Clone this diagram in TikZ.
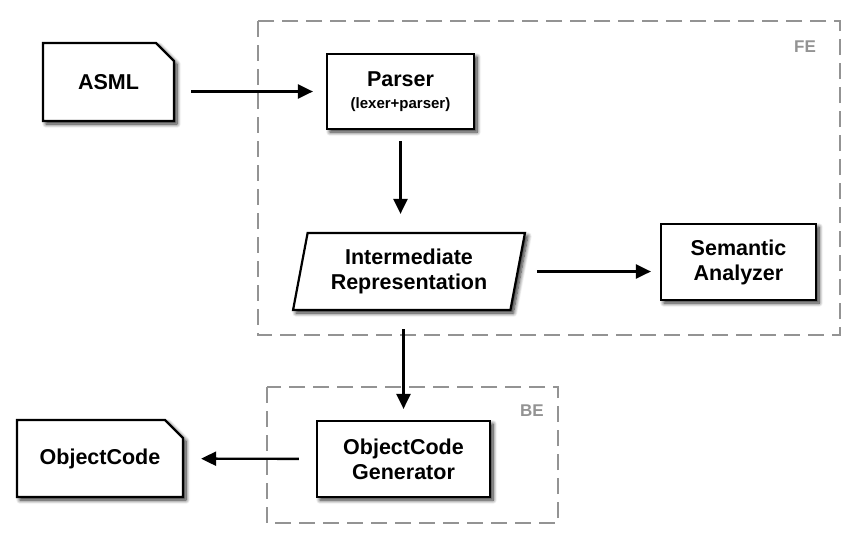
\documentclass[tikz,border=0pt]{standalone}
\usepackage{fontspec}
\setmainfont{Liberation Sans}
\usetikzlibrary{shapes.misc,shapes.geometric,shadows.blur,arrows.meta}

\begin{document}
\begin{tikzpicture}[x=1pt,y=-1pt,
    font=\bfseries\fontsize{21.5}{25}\selectfont,
    block/.style={draw, line width=2.2pt, fill=white, align=center, inner sep=0pt,
        blur shadow={shadow xshift=3pt, shadow yshift=-3pt, shadow blur radius=4pt, shadow blur steps=8, shadow opacity=85}},
    doc/.style={block, chamfered rectangle, chamfered rectangle corners=north east,
        chamfered rectangle xsep=2pt, chamfered rectangle ysep=16pt},
    area/.style={draw=gray!85, line width=2.5pt, dash pattern=on 16pt off 8pt},
    tag/.style={text=gray!85, font=\bfseries\fontsize{17}{20}\selectfont},
    flow/.style={line width=2.4pt, -{Triangle[length=15pt,width=14pt]}, shorten <=16pt, shorten >=13pt}]
    \useasboundingbox (0,0) rectangle (850,541);
    % frontend / backend
    \draw [area] (258,21) rectangle (840,335);
    \node [tag] (fe) at (805,47) {FE};
    \draw [area] (267,387) rectangle (558,523);
    \node [tag] (be) at (532,411) {BE};
    % blocks
    \node [doc, minimum width=131pt, minimum height=78pt] (asml) at (108.5,82) {ASML};
    \node [block, minimum width=147pt, minimum height=75pt] (parser) at (400.5,91.5)
        {Parser\\[-3pt]{\fontsize{15}{17}\selectfont(lexer+parser)}};
    \node [block, trapezium, trapezium stretches=true, trapezium left angle=76, trapezium right angle=104,
        minimum width=232pt, minimum height=77pt] (ir) at (409,271.5) {Intermediate\\Representation};
    \node [block, minimum width=155pt, minimum height=76pt] (sa) at (738.5,262) {Semantic\\Analyzer};
    \node [block, minimum width=173pt, minimum height=76pt] (ocg) at (403.5,459) {ObjectCode\\Generator};
    \node [doc, minimum width=166pt, minimum height=77pt] (obj) at (100,458.5) {ObjectCode};
    % arrows
    \draw [flow] (asml.east |- parser.west) -- (parser.west);
    \draw [flow, shorten <=11pt, shorten >=18pt] (parser.south) -- (parser.south |- ir.north);
    \draw [flow, shorten <=18pt, shorten >=9pt] (ir.east) -- (ir.east -| sa.west);
    \draw [flow, shorten <=18pt, shorten >=11pt] (ocg.north |- ir.south) -- (ocg.north);
    \draw [flow, shorten <=17pt, shorten >=17pt] (ocg) -- (obj);
\end{tikzpicture}
\end{document}
